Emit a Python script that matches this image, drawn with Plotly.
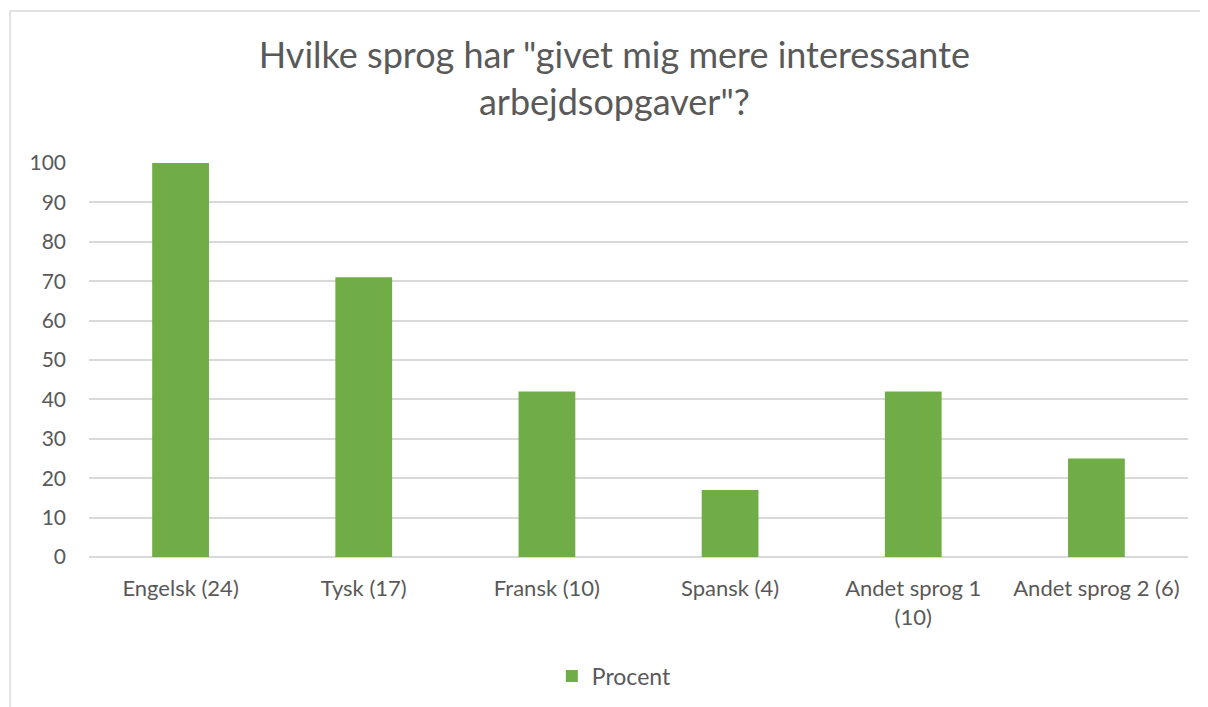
import plotly.graph_objects as go

categories = ["Engelsk (24)", "Tysk (17)", "Fransk (10)", "Spansk (4)", "Andet sprog 1<br>(10)", "Andet sprog 2 (6)"]
procent = [100, 71, 42, 17, 42, 25]
y_ticks = [0, 10, 20, 30, 40, 50, 60, 70, 80, 90, 100]

FONT = "Lato"
GREY = "#595959"

fig = go.Figure()
fig.add_trace(go.Bar(x=categories, y=procent, name="Procent", marker_color="#70AD47",
                     marker_line_width=0))

fig.update_layout(
    width=1208, height=707,
    margin=dict(l=81, r=28, t=155, b=158),
    paper_bgcolor="white", plot_bgcolor="white",
    font=dict(family=FONT, color=GREY, size=22),
    title=dict(text='Hvilke sprog har "givet mig mere interessante<br>arbejdsopgaver"?',
               x=0.502, xanchor="center", xref="container",
               y=0.915, yanchor="top", yref="container",
               font=dict(family=FONT, size=36, color=GREY)),
    bargap=0.69,
    showlegend=True,
    legend=dict(orientation="h", x=0.478, xanchor="center", y=-0.302, yanchor="middle",
                font=dict(size=23, color=GREY)),
    xaxis=dict(showgrid=False, showline=False, ticks="", ticklabelstandoff=16,
               tickfont=dict(size=22, color=GREY)),
    yaxis=dict(range=[0, 100], tickvals=y_ticks, showgrid=True, gridcolor="#D9D9D9", gridwidth=1.5,
               zeroline=True, zerolinecolor="#D9D9D9", zerolinewidth=1.5, showline=False,
               ticks="", ticklen=0, ticklabelstandoff=22, tickfont=dict(size=21, color=GREY)),
    shapes=[
        dict(type="line", xref="paper", yref="paper", x0=-0.0719, x1=1.1, y0=1.3858, y1=1.3858,
             line=dict(color="#D9D9D9", width=1.5)),
        dict(type="line", xref="paper", yref="paper", x0=-0.0719, x1=-0.0719, y0=-0.5, y1=1.3858,
             line=dict(color="#D9D9D9", width=1.5)),
    ],
)
fig.update_yaxes(automargin=False)
fig.update_xaxes(automargin=False)
fig.write_html("out.html")
